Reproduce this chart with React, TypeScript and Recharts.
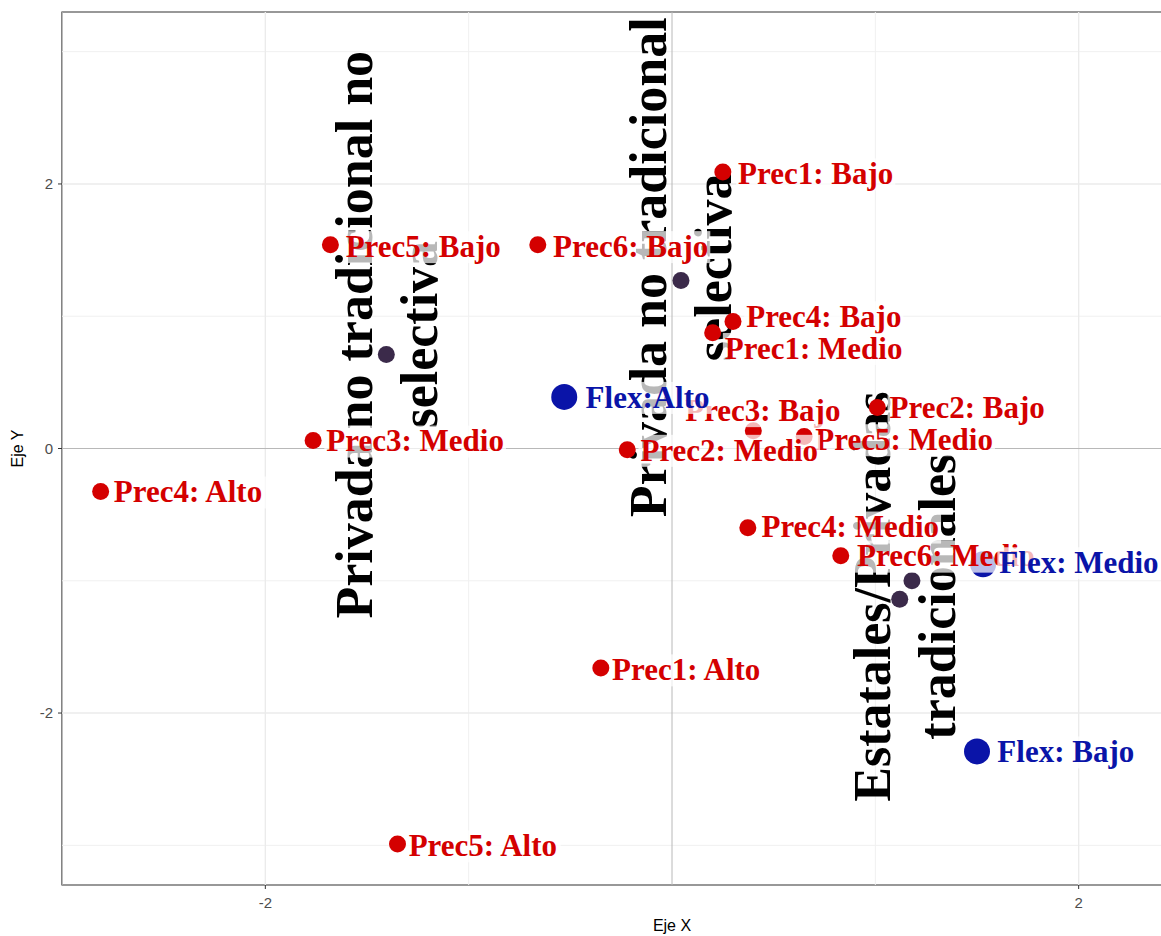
import React from 'react';
import { ScatterChart, Scatter, XAxis, YAxis, ReferenceLine, ReferenceArea } from 'recharts';

// ---------- data ----------
const precNames = [
  'Prec1: Bajo', 'Prec5: Bajo', 'Prec6: Bajo', 'Prec4: Bajo', 'Prec1: Medio',
  'Prec2: Bajo', 'Prec3: Bajo', 'Prec5: Medio', 'Prec3: Medio', 'Prec2: Medio',
  'Prec4: Alto', 'Prec4: Medio', 'Prec6: Medio', 'Prec1: Alto', 'Prec5: Alto',
];
const precX = [0.25, -1.68, -0.66, 0.30, 0.20, 1.01, 0.40, 0.65, -1.765, -0.22, -2.81, 0.373, 0.83, -0.35, -1.35];
const precY = [2.09, 1.54, 1.54, 0.96, 0.875, 0.31, 0.135, 0.09, 0.06, -0.01, -0.325, -0.60, -0.81, -1.66, -2.99];
const precLabelX = [0.325, -1.605, -0.585, 0.365, 0.26, 1.07, 0.065, 0.705, -1.70, -0.155, -2.745, 0.44, 0.91, -0.295, -1.295];
const precLabelY = [2.08, 1.53, 1.53, 1.00, 0.76, 0.31, 0.29, 0.07, 0.06, -0.01, -0.325, -0.59, -0.81, -1.67, -3.0];

const flexNames = ['Flex:Alto', 'Flex: Medio', 'Flex: Bajo'];
const flexX = [-0.53, 1.53, 1.50];
const flexY = [0.39, -0.875, -2.29];
const flexLabelX = [-0.425, 1.61, 1.60];
const flexLabelY = [0.39, -0.86, -2.29];

const clusterX = [0.044, -1.405, 1.18, 1.12];
const clusterY = [1.27, 0.71, -1.0, -1.14];

const groupLines = [
  ['Privada no tradicional no', 'selectiva'],
  ['Privada no tradicional', 'selectiva'],
  ['Estatales/Privadas', 'tradicionales'],
];
const groupX = [-1.405, 0.044, 1.145];
const groupY = [0.86, 1.37, -1.12];

const xTicks = [-2, 2];
const yTicks = [-2, 0, 2];
const majorGridX = [-2, 2];
const minorGridX = [-3, -1, 1, 3];
const majorGridY = [-2, 2];
const minorGridY = [-3, -1, 1, 3];

// ---------- derived tables ----------
const precPoints = precX.map((x, i) => ({ x, y: precY[i] }));
const precLabels = precNames.map((name, i) => ({ x: precLabelX[i], y: precLabelY[i], name }));
const flexPoints = flexX.map((x, i) => ({ x, y: flexY[i] }));
const flexLabels = flexNames.map((name, i) => ({ x: flexLabelX[i], y: flexLabelY[i], name }));
const clusterPoints = clusterX.map((x, i) => ({ x, y: clusterY[i] }));
const groupLabels = groupLines.map((lines, i) => ({ x: groupX[i], y: groupY[i], lines }));

const RED = '#d40000';
const BLUE = '#0a14a8';
const DARK = '#3b2a4a';
const SERIF = '"Liberation Serif", "Times New Roman", serif';
const SANS = '"Liberation Sans", Arial, sans-serif';
const LABEL_SIZE = 31;
const GROUP_SIZE = 52;

let ctx: CanvasRenderingContext2D | null = null;
function measure(text: string, font: string): number {
  if (typeof document === 'undefined') return text.length * 15;
  if (!ctx) ctx = document.createElement('canvas').getContext('2d');
  if (!ctx) return text.length * 15;
  ctx.font = font;
  return ctx.measureText(text).width;
}

const dot = (r: number, fill: string) => (props: any) => {
  const { cx, cy } = props;
  if (cx == null || cy == null) return <g />;
  return <circle cx={cx} cy={cy} r={r} fill={fill} />;
};

const labelShape = (fill: string) => (props: any) => {
  const { cx, cy, payload } = props;
  if (cx == null || cy == null) return <g />;
  const w = measure(payload.name, `bold ${LABEL_SIZE}px ${SERIF}`);
  return (
    <g>
      <rect x={cx - 2} y={cy - 15} width={w + 4} height={32} fill="#ffffff" fillOpacity={0.72} />
      <text
        x={cx}
        y={cy}
        dy="0.35em"
        fill={fill}
        fontFamily={SERIF}
        fontWeight="bold"
        fontSize={LABEL_SIZE}
      >
        {payload.name}
      </text>
    </g>
  );
};

const groupShape = (props: any) => {
  const { cx, cy, payload } = props;
  if (cx == null || cy == null) return <g />;
  const gap = 65;
  return (
    <g transform={`translate(${cx},${cy}) rotate(-90)`}>
      <text
        x={0}
        y={0}
        textAnchor="middle"
        fill="#000"
        fontFamily={SERIF}
        fontWeight="bold"
        fontSize={GROUP_SIZE}
      >
        <tspan x={0} y={-gap / 2 + 18}>{payload.lines[0]}</tspan>
        <tspan x={0} y={gap / 2 + 18}>{payload.lines[1]}</tspan>
      </text>
    </g>
  );
};

export default function App() {
  return (
    <div
      style={{
        position: 'absolute',
        left: 0,
        top: 0,
        width: 1161,
        height: 936,
        overflow: 'hidden',
        background: '#ffffff',
      }}
    >
      <ScatterChart width={1290} height={936} margin={{ top: 12, right: 8, bottom: 0, left: 0 }}>
        <XAxis
          type="number"
          dataKey="x"
          domain={[-3, 3]}
          allowDataOverflow
          ticks={xTicks}
          axisLine={false}
          tickLine={{ stroke: '#333333' }}
          tickSize={4}
          tickMargin={8}
          height={51}
          tick={{ fill: '#4d4d4d', fontSize: 15, fontFamily: SANS }}
          label={{
            content: (p: any) => (
              <text
                x={p.viewBox.x + p.viewBox.width / 2}
                y={931}
                textAnchor="middle"
                fill="#000"
                fontSize={16}
                fontFamily={SANS}
              >
                Eje X
              </text>
            ),
          }}
        />
        <YAxis
          type="number"
          dataKey="y"
          domain={[-3.3, 3.3]}
          allowDataOverflow
          ticks={yTicks}
          axisLine={false}
          tickLine={{ stroke: '#333333' }}
          tickSize={4}
          tickMargin={5}
          width={62}
          tick={{ fill: '#4d4d4d', fontSize: 15, fontFamily: SANS }}
          label={{
            content: (p: any) => {
              const cy = p.viewBox.y + p.viewBox.height / 2;
              return (
                <text
                  x={0}
                  y={0}
                  transform={`translate(23,${cy}) rotate(-90)`}
                  textAnchor="middle"
                  fill="#000"
                  fontSize={16}
                  fontFamily={SANS}
                >
                  Eje Y
                </text>
              );
            },
          }}
        />
        {minorGridX.map((v) => (
          <ReferenceLine key={`mx${v}`} x={v} stroke="#f0f0f0" strokeWidth={1} ifOverflow="hidden" />
        ))}
        {minorGridY.map((v) => (
          <ReferenceLine key={`my${v}`} y={v} stroke="#f0f0f0" strokeWidth={1} ifOverflow="hidden" />
        ))}
        {majorGridX.map((v) => (
          <ReferenceLine key={`Mx${v}`} x={v} stroke="#ebebeb" strokeWidth={1.4} />
        ))}
        {majorGridY.map((v) => (
          <ReferenceLine key={`My${v}`} y={v} stroke="#ebebeb" strokeWidth={1.4} />
        ))}
        <ReferenceLine x={0} stroke="#b8b8b8" strokeWidth={1} />
        <ReferenceLine y={0} stroke="#b8b8b8" strokeWidth={1} />
        <ReferenceArea x1={-3} x2={3} y1={-3.3} y2={3.3} fill="none" stroke="#333333" strokeWidth={1.2} ifOverflow="visible" />
        <Scatter data={groupLabels} shape={groupShape} isAnimationActive={false} />
        <Scatter data={clusterPoints} shape={dot(8.5, DARK)} isAnimationActive={false} />
        <Scatter data={flexPoints} shape={dot(13, BLUE)} isAnimationActive={false} />
        <Scatter data={precPoints} shape={dot(8.5, RED)} isAnimationActive={false} />
        <Scatter data={precLabels} shape={labelShape(RED)} isAnimationActive={false} />
        <Scatter data={flexLabels} shape={labelShape(BLUE)} isAnimationActive={false} />
      </ScatterChart>
    </div>
  );
}
